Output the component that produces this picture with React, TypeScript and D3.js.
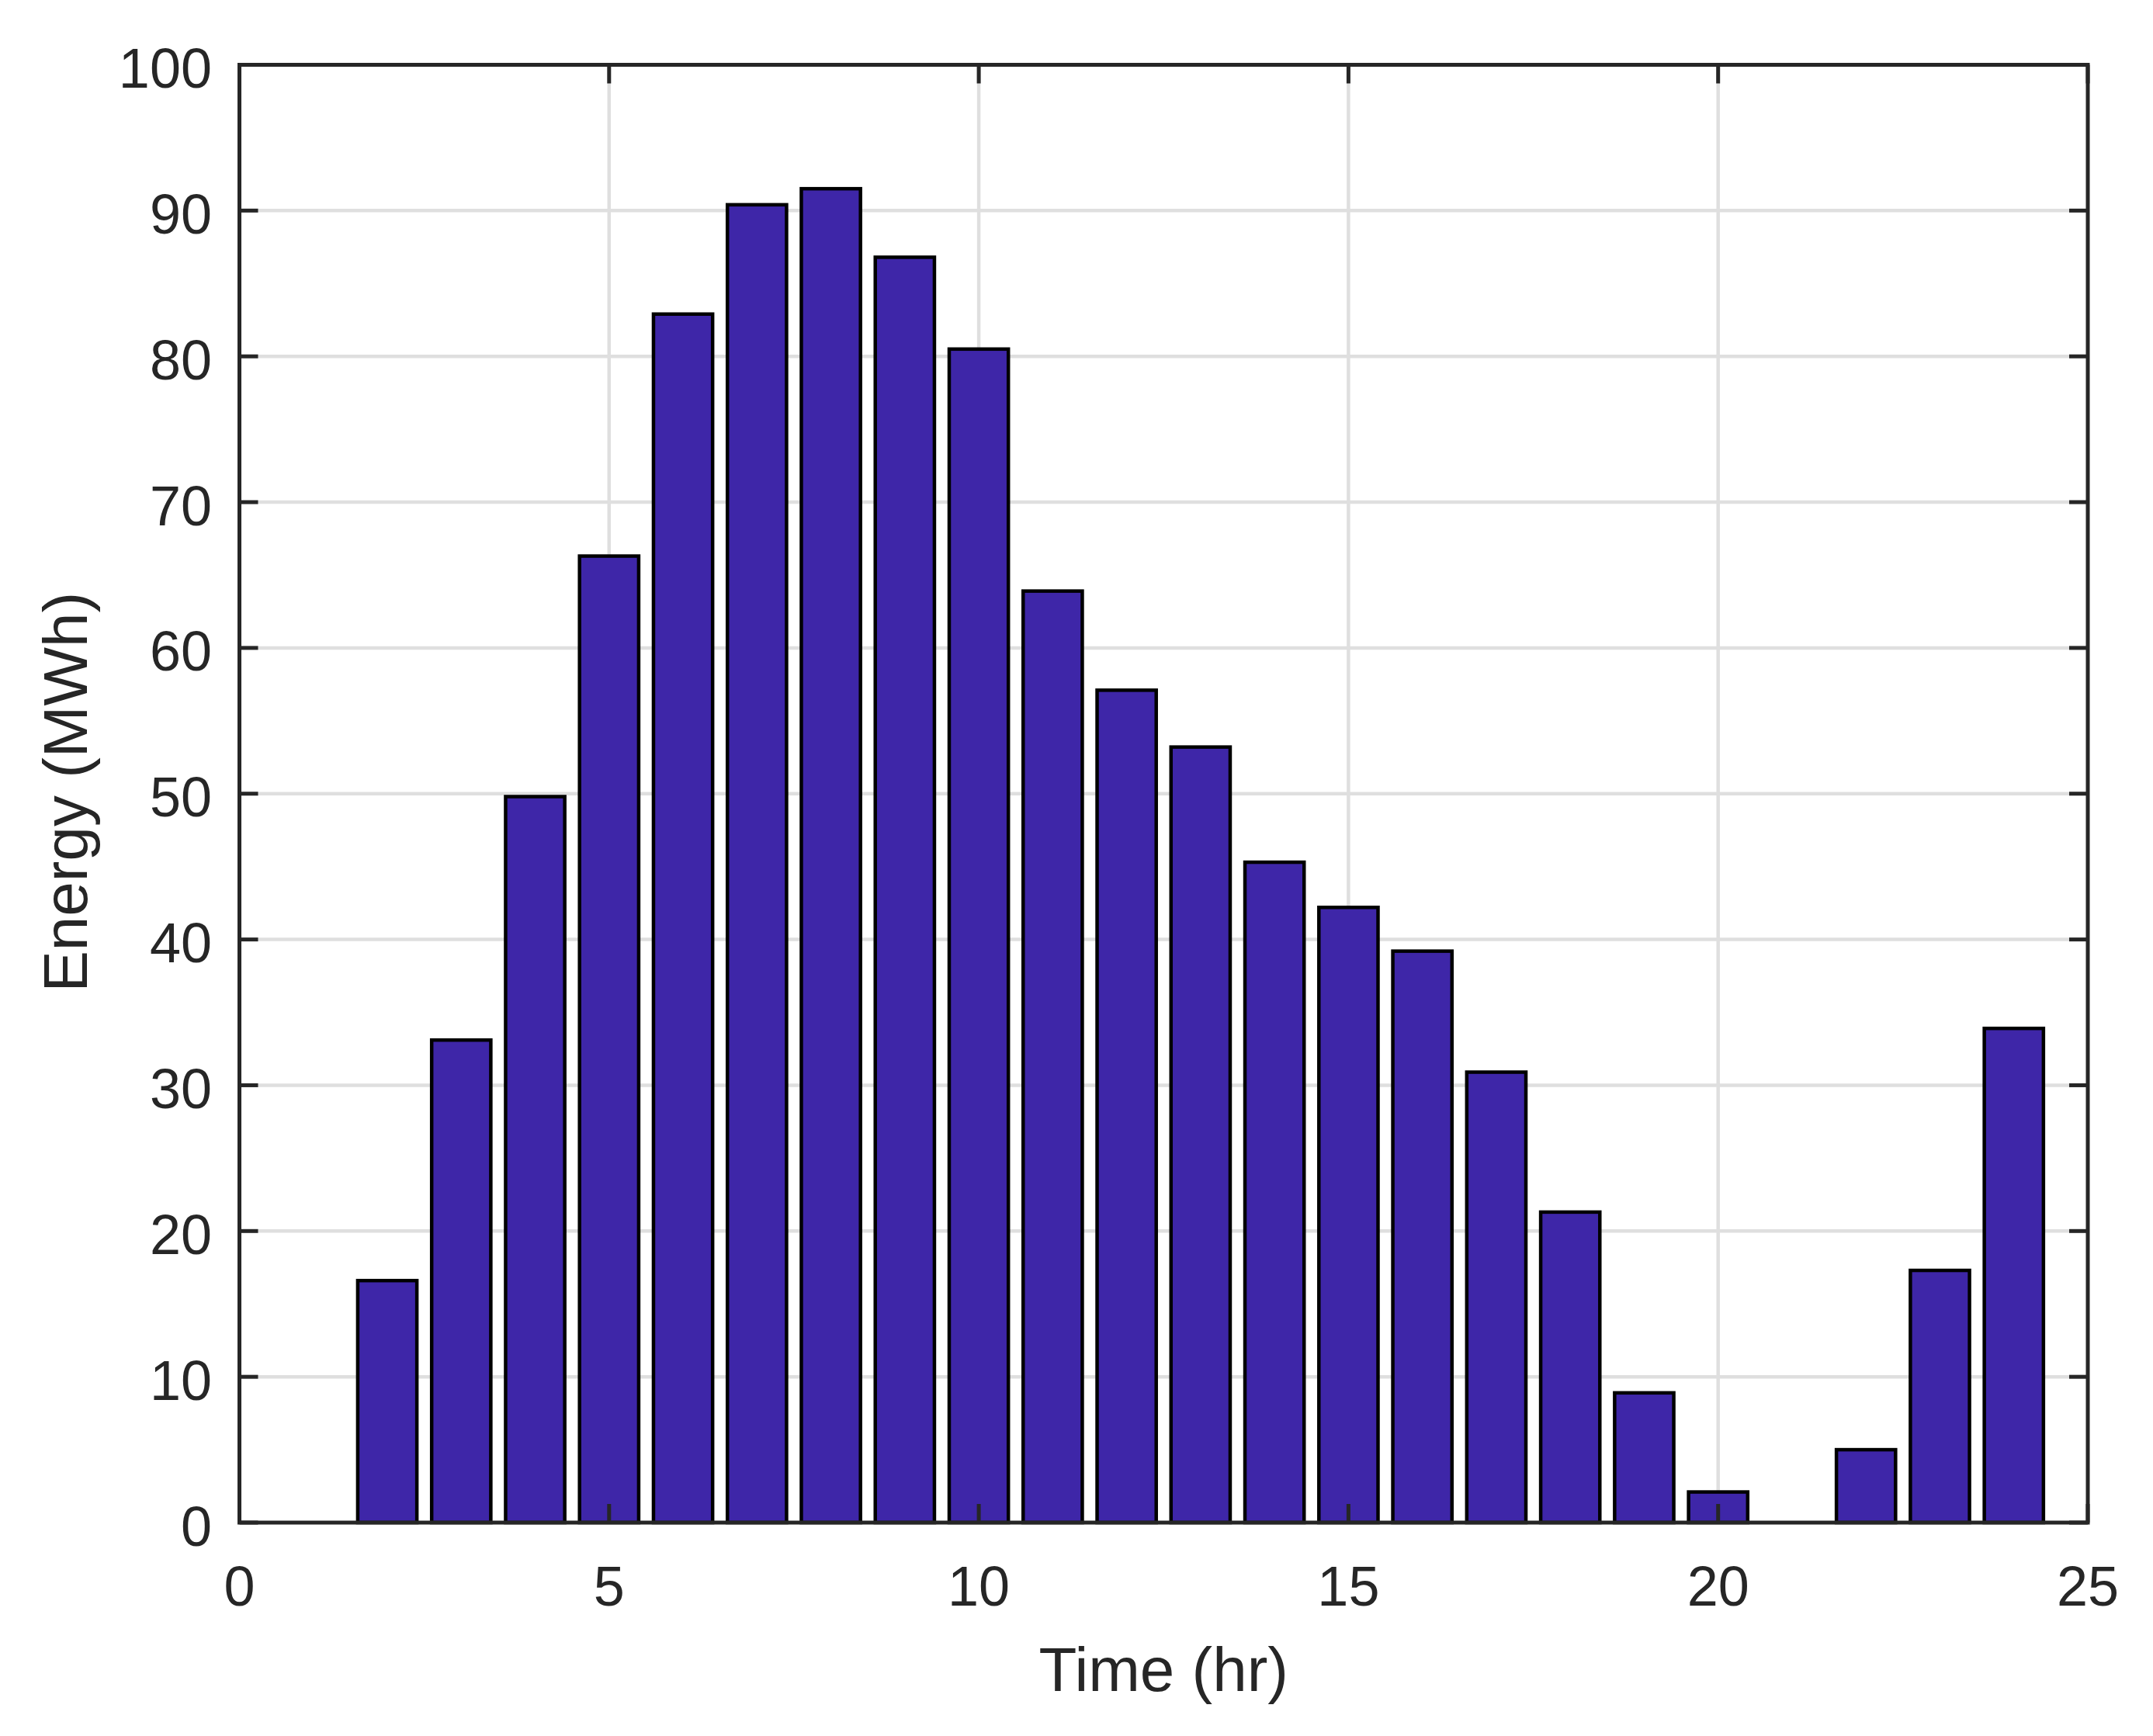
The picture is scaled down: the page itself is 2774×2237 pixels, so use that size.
import React from "react";
import * as d3 from "d3";

const hours = [1, 2, 3, 4, 5, 6, 7, 8, 9, 10, 11, 12, 13, 14, 15, 16, 17, 18, 19, 20, 21, 22, 23, 24];
const energy = [0, 16.6, 33.1, 49.8, 66.3, 82.9, 90.4, 91.5, 86.8, 80.5, 63.9, 57.1, 53.2, 45.3, 42.2, 39.2, 30.9, 21.3, 8.9, 2.1, 0, 5.0, 17.3, 33.9];
const xTicks = [0, 5, 10, 15, 20, 25];
const yTicks = [0, 10, 20, 30, 40, 50, 60, 70, 80, 90, 100];
const xLabel = "Time (hr)";
const yLabel = "Energy (MWh)";

const W = 2774;
const H = 2237;
const L = 308.5;
const R = 2690;
const T = 83.5;
const B = 1962;
const TXT = "#262626";
const FONT = "'Liberation Sans', Arial, Helvetica, sans-serif";

export default function App() {
  const x = d3.scaleLinear().domain([0, 25]).range([L, R]);
  const y = d3.scaleLinear().domain([0, 100]).range([B, T]);
  const barW = x(0.8) - x(0);
  const tickLen = 24;

  return (
    <svg width={W} height={H} style={{ position: "absolute", left: 0, top: 0, background: "#fff" }}>
      <rect x={0} y={0} width={W} height={H} fill="#fff" />
      {/* grid */}
      <g stroke="#dfdfdf" strokeWidth={4.5}>
        {xTicks.slice(1, -1).map((t) => (
          <line key={"gx" + t} x1={x(t)} x2={x(t)} y1={T} y2={B} />
        ))}
        {yTicks.slice(1, -1).map((t) => (
          <line key={"gy" + t} x1={L} x2={R} y1={y(t)} y2={y(t)} />
        ))}
      </g>
      {/* bars */}
      <g fill="#3e26a8" stroke="#000" strokeWidth={4.5}>
        {hours.map((h, i) =>
          energy[i] > 0 ? (
            <rect key={"b" + h} x={x(h) - barW / 2} y={y(energy[i])} width={barW} height={y(0) - y(energy[i])} />
          ) : null
        )}
      </g>
      {/* ticks */}
      <g stroke={TXT} strokeWidth={5}>
        {xTicks.map((t) => (
          <g key={"tx" + t}>
            <line x1={x(t)} x2={x(t)} y1={B} y2={B - tickLen} />
            <line x1={x(t)} x2={x(t)} y1={T} y2={T + tickLen} />
          </g>
        ))}
        {yTicks.map((t) => (
          <g key={"ty" + t}>
            <line x1={L} x2={L + tickLen} y1={y(t)} y2={y(t)} />
            <line x1={R} x2={R - tickLen} y1={y(t)} y2={y(t)} />
          </g>
        ))}
      </g>
      {/* box */}
      <rect x={L} y={T} width={R - L} height={B - T} fill="none" stroke={TXT} strokeWidth={5} />
      {/* tick labels */}
      <g fill={TXT} fontFamily={FONT} fontSize={72}>
        {xTicks.map((t) => (
          <text key={"lx" + t} x={x(t)} y={2069} textAnchor="middle">
            {t}
          </text>
        ))}
        {yTicks.map((t) => (
          <text key={"ly" + t} x={273} y={y(t) + 29.5} textAnchor="end">
            {t}
          </text>
        ))}
      </g>
      <text x={(L + R) / 2} y={2179} textAnchor="middle" fill={TXT} fontFamily={FONT} fontSize={80}>
        {xLabel}
      </text>
      <text
        transform={`translate(112, ${(T + B) / 2 - 2}) rotate(-90)`}
        textAnchor="middle"
        fill={TXT}
        fontFamily={FONT}
        fontSize={80}
      >
        {yLabel}
      </text>
    </svg>
  );
}
